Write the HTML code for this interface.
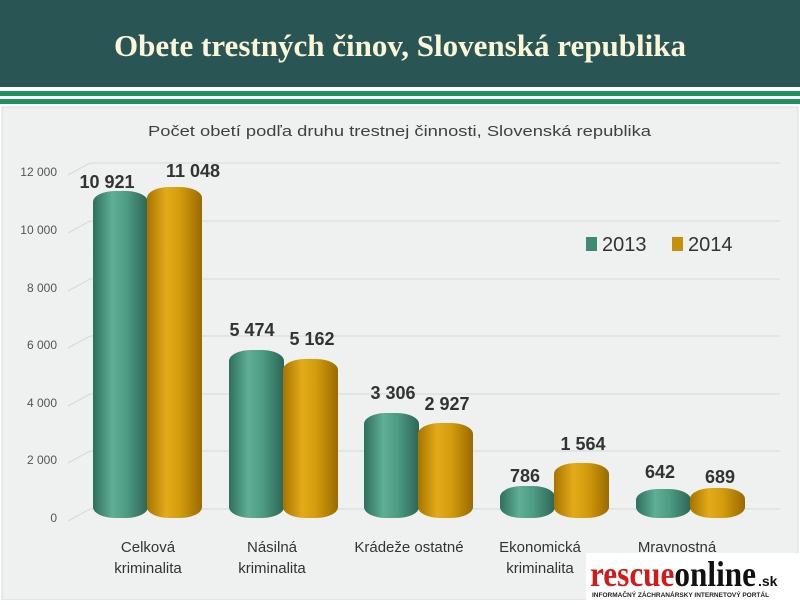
<!DOCTYPE html>
<html><head><meta charset="utf-8"><style>
body{margin:0;width:800px;height:600px;overflow:hidden;background:#fff;font-family:"Liberation Sans",sans-serif}
</style></head><body>
<svg width="800" height="600" xmlns="http://www.w3.org/2000/svg">
<defs>
<linearGradient id="t" x1="0" x2="1"><stop offset="0" stop-color="#2f6f5e"/><stop offset="0.35" stop-color="#5fae95"/><stop offset="0.6" stop-color="#4f9c84"/><stop offset="1" stop-color="#2b6657"/></linearGradient>
<linearGradient id="g" x1="0" x2="1"><stop offset="0" stop-color="#a87400"/><stop offset="0.35" stop-color="#e3ab1a"/><stop offset="0.6" stop-color="#d39c0c"/><stop offset="1" stop-color="#9a6a00"/></linearGradient>
</defs>
<rect x="0" y="0" width="800" height="87" fill="#2a5555"/>
<text x="114" y="56" font-family="Liberation Serif" font-weight="bold" font-size="31" fill="#fbf6d8" textLength="572" lengthAdjust="spacingAndGlyphs">Obete trestných činov, Slovenská republika</text>
<rect x="0" y="91" width="800" height="5" fill="#21905f"/>
<rect x="0" y="99" width="800" height="5" fill="#21905f"/>
<rect x="2" y="107" width="796" height="493" fill="#eef1ef" stroke="#d8dcda"/>
<text x="148" y="136" font-size="15" fill="#404040" textLength="503" lengthAdjust="spacingAndGlyphs">Počet obetí podľa druhu trestnej činnosti,  Slovenská republika</text>
<g stroke="#d6d9d8" stroke-width="1" fill="none">
<path d="M68 175 L90 163 H780"/><path d="M68 233 L90 221 H780"/><path d="M68 291 L90 279 H780"/><path d="M68 348 L90 336 H780"/><path d="M68 406 L90 394 H780"/><path d="M68 463 L90 451 H780"/><path d="M68 521 L90 509 H780"/>
</g>
<g font-size="12" fill="#555" text-anchor="end">
<text x="57" y="176">12 000</text><text x="57" y="234">10 000</text><text x="57" y="292">8 000</text><text x="57" y="349">6 000</text><text x="57" y="407">4 000</text><text x="57" y="464">2 000</text><text x="57" y="522">0</text>
</g>
<g>
<rect x="93" y="191" width="55" height="327" rx="22" ry="11" fill="url(#t)"/>
<rect x="147" y="187" width="55" height="331" rx="22" ry="11" fill="url(#g)"/>
<rect x="229" y="350" width="55" height="168" rx="22" ry="11" fill="url(#t)"/>
<rect x="283" y="359" width="55" height="159" rx="22" ry="11" fill="url(#g)"/>
<rect x="364" y="413" width="55" height="105" rx="22" ry="11" fill="url(#t)"/>
<rect x="418" y="423" width="55" height="95" rx="22" ry="11" fill="url(#g)"/>
<rect x="500" y="486" width="55" height="32" rx="22" ry="11" fill="url(#t)"/>
<rect x="554" y="463" width="55" height="55" rx="22" ry="11" fill="url(#g)"/>
<rect x="636" y="489" width="55" height="29" rx="22" ry="11" fill="url(#t)"/>
<rect x="690" y="488" width="55" height="30" rx="22" ry="11" fill="url(#g)"/>
</g>
<g font-size="18" font-weight="bold" fill="#333" text-anchor="middle">
<text x="107" y="188">10 921</text><text x="193" y="177">11 048</text>
<text x="252" y="336">5 474</text><text x="312" y="345">5 162</text>
<text x="393" y="399">3 306</text><text x="447" y="410">2 927</text>
<text x="525" y="482">786</text><text x="583" y="450">1 564</text>
<text x="660" y="478">642</text><text x="720" y="483">689</text>
</g>
<g font-size="20" fill="#333">
<rect x="586" y="237" width="11" height="14" fill="#3f8a74"/><text x="602" y="251">2013</text>
<rect x="672" y="237" width="11" height="14" fill="#c8900a"/><text x="688" y="251">2014</text>
</g>
<g font-size="15" fill="#333" text-anchor="middle">
<text x="148" y="552">Celková</text><text x="148" y="573">kriminalita</text>
<text x="272" y="552">Násilná</text><text x="272" y="573">kriminalita</text>
<text x="409" y="552">Krádeže ostatné</text>
<text x="540" y="552">Ekonomická</text><text x="540" y="573">kriminalita</text>
<text x="677" y="552">Mravnostná</text>
</g>
<rect x="586" y="553" width="214" height="47" fill="#fff"/>
<text x="590" y="586" font-family="Liberation Serif" font-weight="bold" font-size="36" fill="#d21a1a" textLength="166" lengthAdjust="spacingAndGlyphs">rescue<tspan fill="#111">online</tspan></text>
<text x="758" y="586" font-weight="bold" font-size="14" fill="#111">.sk</text>
<text x="592" y="597" font-size="6.5" font-weight="bold" fill="#222">INFORMAČNÝ ZÁCHRANÁRSKY INTERNETOVÝ PORTÁL</text>
</svg>
</body></html>
